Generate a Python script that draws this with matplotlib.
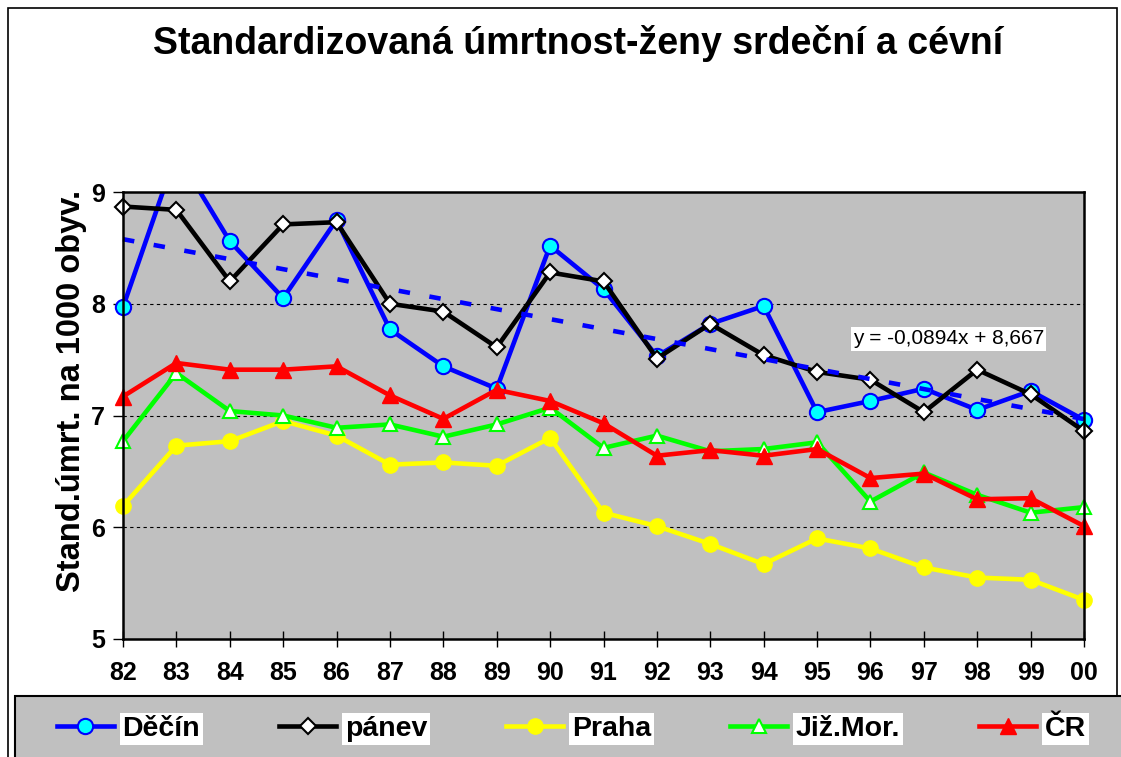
import numpy as np
import matplotlib
matplotlib.use("Agg")
import matplotlib.pyplot as plt
from matplotlib.patches import Rectangle

plt.rcParams['font.family'] = ['Liberation Sans', 'DejaVu Sans']

# data
years = ["82", "83", "84", "85", "86", "87", "88", "89", "90", "91",
         "92", "93", "94", "95", "96", "97", "98", "99", "00"]
decin = [7.97, 9.35, 8.56, 8.05, 8.75, 7.77, 7.44, 7.24, 8.52, 8.13,
         7.53, 7.82, 7.98, 7.03, 7.13, 7.24, 7.05, 7.22, 6.96]
panev = [8.87, 8.84, 8.20, 8.71, 8.73, 8.00, 7.93, 7.61, 8.28, 8.20,
         7.51, 7.82, 7.54, 7.39, 7.32, 7.03, 7.41, 7.19, 6.86]
praha = [6.19, 6.73, 6.77, 6.95, 6.82, 6.56, 6.58, 6.55, 6.80, 6.13,
         6.01, 5.85, 5.67, 5.90, 5.81, 5.64, 5.55, 5.53, 5.35]
jizmor = [6.77, 7.38, 7.04, 7.00, 6.89, 6.92, 6.81, 6.92, 7.07, 6.71,
          6.82, 6.68, 6.70, 6.76, 6.23, 6.49, 6.29, 6.13, 6.18]
cr = [7.17, 7.47, 7.41, 7.41, 7.44, 7.18, 6.97, 7.23, 7.13, 6.93,
      6.64, 6.69, 6.64, 6.70, 6.44, 6.48, 6.25, 6.26, 6.01]

# trendline of Děčín as printed on the chart
trend_slope = -0.0894
trend_icpt = 8.667

W, H = 1121, 757
fig = plt.figure(figsize=(W / 100, H / 100), dpi=100)
ax = fig.add_axes([123 / W, 1 - 639 / H, (1084 - 123) / W, (639 - 192) / H])
ax.set_facecolor('#C0C0C0')

x = np.arange(len(years))

# clip only top/bottom, so edge markers stay whole
clip = Rectangle((-1, 4), len(years) + 1, 5, transform=ax.transData)

series = [
    (decin, 'Děčín', dict(color='#0000FF', marker='o', mfc='#00FFFF', mec='#0000FF', ms=11, mew=1.5)),
    (panev, 'pánev', dict(color='black', marker='D', mfc='white', mec='black', ms=8, mew=1.5)),
    (praha, 'Praha', dict(color='#FFFF00', marker='o', mfc='#FFFF00', mec='#FFFF00', ms=11)),
    (jizmor, 'Již.Mor.', dict(color='#00FF00', marker='^', mfc='white', mec='#00FF00', ms=10, mew=1.5)),
    (cr, 'ČR', dict(color='#FF0000', marker='^', mfc='#FF0000', mec='#FF0000', ms=11)),
]
handles = []
for vals, name, st in series:
    l, = ax.plot(x, vals, lw=3.3, label=name, **st)
    l.set_clip_path(clip)
    handles.append(l)

tx = np.arange(1, len(years) + 1)
tl, = ax.plot(x, trend_slope * tx + trend_icpt, color='#0000FF', lw=3.3,
              linestyle=(0, (2.5, 4.3)))
tl.set_clip_path(clip)

ax.text(853 / W, 1 - 339 / H, "y = -0,0894x + 8,667", transform=fig.transFigure,
        fontsize=15, va='center', ha='left',
        bbox=dict(facecolor='white', edgecolor='none', pad=1.5))

ax.set_xlim(0, len(years) - 1)
ax.set_ylim(5, 9)
ax.set_xticks(x)
ax.set_xticklabels(years)
ax.set_yticks([5, 6, 7, 8, 9])
for yv in [6, 7, 8]:
    ax.axhline(yv, color='black', lw=0.8, linestyle=(0, (3, 3)), zorder=1)

ax.tick_params(axis='x', direction='inout', length=12, width=1, pad=10)
ax.tick_params(axis='y', direction='out', length=7, width=1, pad=6)
for lab in ax.get_xticklabels() + ax.get_yticklabels():
    lab.set_fontsize(18)
    lab.set_fontweight('bold')
for s in ax.spines.values():
    s.set_linewidth(1.8)
    s.set_zorder(5)

fig.text(578 / W, 1 - 43 / H, "Standardizovaná úmrtnost-ženy srdeční a cévní",
         fontsize=27, fontweight='bold', ha='center', va='center')
fig.text(72 / W, 1 - 391 / H, "Stand.úmrt. na 1000 obyv.", rotation=90,
         fontsize=23.5, fontweight='bold', ha='center', va='center')

# outer chart frame and legend box
fig.patches.append(Rectangle((8 / W, -0.1), (1117 - 8) / W, 1.1 - 8 / H,
                             transform=fig.transFigure, facecolor='none',
                             edgecolor='black', lw=1.2))
fig.patches.append(Rectangle((15 / W, -0.1), 1.0, 0.1 + (757 - 696) / H,
                             transform=fig.transFigure, facecolor='#C0C0C0',
                             edgecolor='black', lw=1.5))

leg = fig.legend(handles=handles, loc='center left', ncol=5,
                 bbox_to_anchor=(57 / W, 1 - 729 / H), frameon=False,
                 prop=dict(size=20.5, weight='bold'), borderaxespad=0, borderpad=0,
                 handlelength=2.0, handletextpad=0.3, columnspacing=2.78)
for t in leg.get_texts():
    t.set_bbox(dict(facecolor='white', edgecolor='none', pad=2))

fig.savefig('out.png', dpi=100)
